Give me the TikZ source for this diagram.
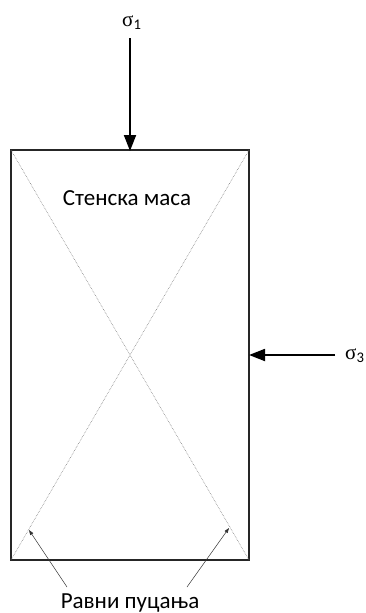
\documentclass[tikz,border=0pt]{standalone}
\usepackage{fontspec}
\setmainfont{Carlito}
\newfontfamily\sigmafont{Liberation Serif}
\usepackage{tikz}
\usetikzlibrary{arrows.meta}

\begin{document}
\begin{tikzpicture}[x=1pt,y=-1pt,
  bigarrow/.style={-{Triangle[length=16pt,width=12pt]},black,line width=1.8pt},
  smallarrow/.style={-{Triangle[length=5pt,width=3.5pt]},black!80,line width=0.5pt},
  plane/.style={gray,densely dotted,line width=0.6pt},
  stress/.style={anchor=base west,inner sep=0pt,font=\fontsize{21}{23}\selectfont}]
\useasboundingbox (0,0) rectangle (365,613);

% rock block
\coordinate (tl) at (11,150);
\coordinate (tr) at (249,150);
\coordinate (bl) at (11,560);
\coordinate (br) at (249,560);
\draw[black!85,line width=1.2pt] (tl) rectangle (br);

\draw[plane] (tl)--(br);
\draw[plane] (tr)--(bl);

\node (mass) at (127,205) [anchor=base,inner sep=0pt,font=\fontsize{23}{25}\selectfont] {Стенска маса};

% stresses
\node (s1) at (122,26) [stress] {{\sigmafont σ}\textsubscript{1}};
\coordinate (s1top) at (130,38);
\coordinate (s1bot) at (130,151);
\draw[bigarrow] (s1top)--(s1bot);

\node (s3) at (345,359) [stress] {{\sigmafont σ}\textsubscript{3}};
\coordinate (s3out) at (335,355);
\coordinate (s3in) at (249,355);
\draw[bigarrow] (s3out)--(s3in);

% planes label
\node (planes) at (130,608) [anchor=base,inner sep=0pt,font=\fontsize{23}{25}\selectfont] {Равни пуцања};
\coordinate (pl) at (29,530);
\coordinate (pr) at (229,528);
\draw[smallarrow] (67,587)--(pl);
\draw[smallarrow] (187,587)--(pr);

\end{tikzpicture}
\end{document}
